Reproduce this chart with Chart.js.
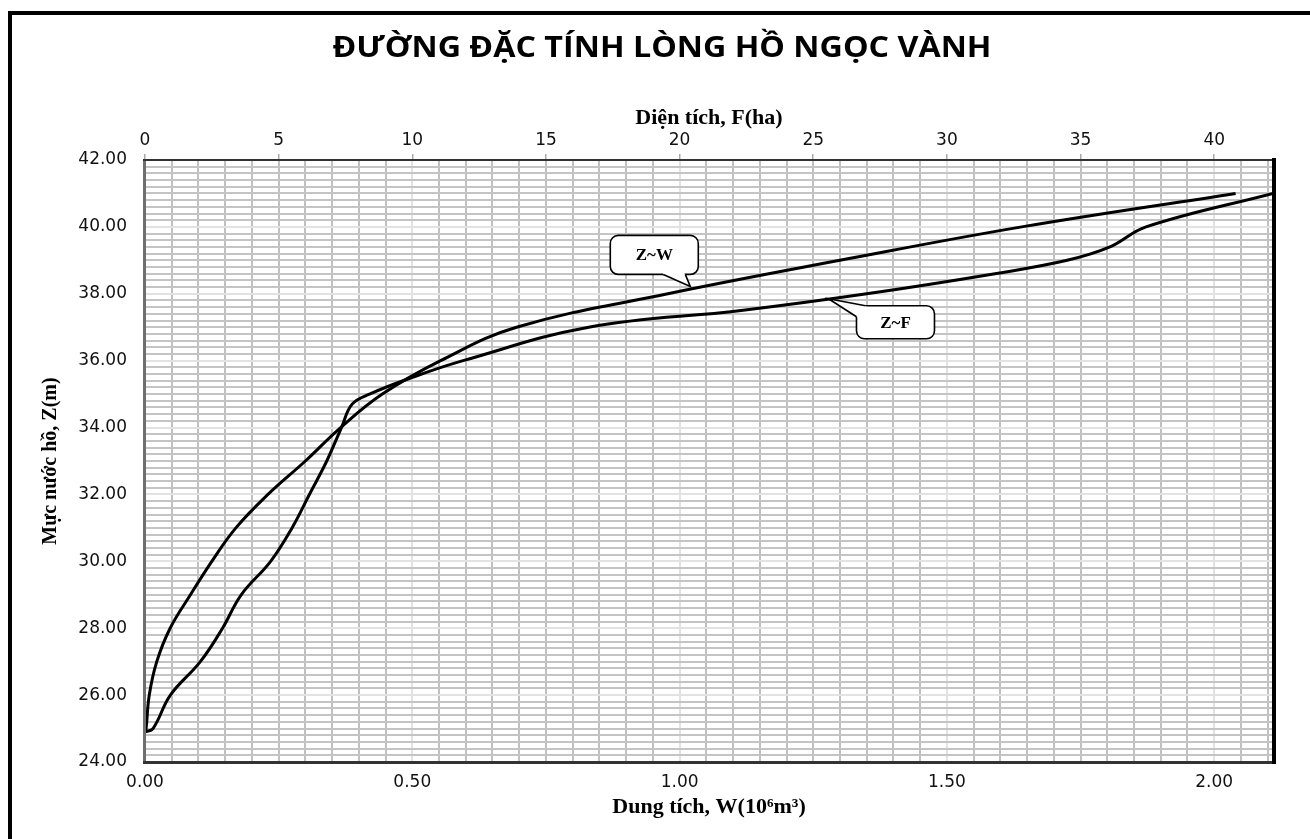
<!DOCTYPE html>
<html>
<head>
<meta charset="utf-8">
<script src="https://cdn.jsdelivr.net/npm/chart.js@4/dist/chart.umd.min.js"></script>
<style>
  html, body { margin: 0; padding: 0; background: #fff; }
  #wrap { width: 1310px; height: 839px; position: relative; }
</style>
</head>
<body>
<div id="wrap"><canvas id="chart"></canvas></div>
<script>
{
  'use strict';

  const chartTitle = 'ĐƯỜNG ĐẶC TÍNH LÒNG HỒ NGỌC VÀNH';
  const wAxisTitle = 'Dung tích, W(10⁶m³)';
  const fAxisTitle = 'Diện tích, F(ha)';
  const zAxisTitle = 'Mực nước hồ, Z(m)';

  /* Z~W : storage (10^6 m3) at each water level */
  const levelsW = [24.9, 25, 26, 27, 28, 29, 30, 31, 32, 33, 34, 35, 36, 37, 38, 39, 40, 41];
  const storage = [0, 0.002, 0.008, 0.022, 0.047, 0.085, 0.125, 0.17, 0.23, 0.3, 0.366, 0.444, 0.553, 0.695, 0.978, 1.3, 1.64, 2.04];

  /* Z~F : surface area (ha) at each water level */
  const levelsF = [24.9, 25, 26, 27, 28, 29, 30, 31, 32, 33, 34, 34.7, 35, 35.5, 36, 37, 37.5, 38, 38.6, 39, 39.4, 40, 41];
  const area = [0, 0.3, 0.95, 2.07, 2.9, 3.6, 4.7, 5.5, 6.15, 6.8, 7.35, 7.75, 8.4, 10, 11.9, 16.6, 22.3, 27, 31.8, 34.5, 36.1, 37.45, 42.2];

  const W_MAX = 2.11;
  const F_MAX = 42.2;
  const Z_MIN = 24;
  const Z_MAX = 42;

  /* callout boxes: tip given in data values, box offset from the tip, pointer base relative to the box */
  const callouts = [
    { text: 'Z~W', scale: 'x', value: 1.02, z: 38.22, box: { dx: -80, dy: -51, w: 88, h: 39 }, base: [[53, 39], [75, 39]] },
    { text: 'Z~F', scale: 'x2', value: 25.57, z: 37.85, box: { dx: 28, dy: 7, w: 78, h: 33 }, base: [[9, 0], [0, 11]] },
  ];

  const tickFont = { family: '"DejaVu Sans"', size: 17 };
  const serifBold = (size) => ({ family: '"Liberation Serif", "Times New Roman", serif', size: size, weight: 'bold' });

  const isMajorZ = (v) => Math.round(v * 10) % 20 === 0;
  const isMajorW = (v) => Math.round(v * 100) % 50 === 0;

  const toPoints = (xs, ys) => xs.map((x, i) => ({ x: x, y: ys[i] }));

  const decorations = {
    id: 'decorations',
    beforeDraw(chart) {
      const ctx = chart.ctx;
      ctx.save();
      ctx.fillStyle = '#fff';
      ctx.fillRect(0, 0, chart.width, chart.height);
      ctx.restore();
    },
    afterDraw(chart) {
      const { ctx, chartArea: a } = chart;
      ctx.save();

      /* plot frame */
      ctx.fillStyle = '#6e6e6e';
      ctx.fillRect(a.left - 2, a.top, 3, a.bottom - a.top);
      ctx.fillStyle = '#333';
      ctx.fillRect(a.left - 2, a.top - 1, a.right - a.left + 2, 2);
      ctx.fillRect(a.left - 2, a.bottom - 1, a.right - a.left + 4, 3);
      ctx.fillStyle = '#000';
      ctx.fillRect(a.right - 1, a.top - 2, 4, a.bottom - a.top + 4);

      /* outer frame */
      ctx.fillRect(8, 11, 4, chart.height - 11);
      ctx.fillRect(8, 11, chart.width - 8, 4);

      /* title, stretched like the original */
      ctx.font = 'bold 26px "Open Sans"';
      ctx.fillStyle = '#000';
      ctx.textAlign = 'center';
      ctx.textBaseline = 'alphabetic';
      const tw = ctx.measureText(chartTitle).width;
      ctx.translate(662, 57);
      ctx.scale(659 / tw, 1.08);
      ctx.fillText(chartTitle, 0, 0);
      ctx.setTransform(1, 0, 0, 1, 0, 0);

      /* callouts */
      for (const c of callouts) {
        const tx = chart.scales[c.scale].getPixelForValue(c.value);
        const ty = chart.scales.y.getPixelForValue(c.z);
        const x = tx + c.box.dx;
        const y = ty + c.box.dy;
        const w = c.box.w;
        const h = c.box.h;
        ctx.lineWidth = 1.6;
        ctx.strokeStyle = '#000';
        ctx.fillStyle = '#fff';
        ctx.beginPath();
        ctx.roundRect(x, y, w, h, 8);
        ctx.fill();
        ctx.stroke();

        const b1 = [x + c.base[0][0], y + c.base[0][1]];
        const b2 = [x + c.base[1][0], y + c.base[1][1]];
        const cx = x + w / 2;
        const cy = y + h / 2;
        const in1 = [b1[0] + (cx - b1[0]) * 0.1, b1[1] + (cy - b1[1]) * 0.2];
        const in2 = [b2[0] + (cx - b2[0]) * 0.1, b2[1] + (cy - b2[1]) * 0.2];
        ctx.beginPath();
        ctx.moveTo(b1[0], b1[1]);
        ctx.lineTo(tx, ty);
        ctx.lineTo(b2[0], b2[1]);
        ctx.lineTo(in2[0], in2[1]);
        ctx.lineTo(in1[0], in1[1]);
        ctx.closePath();
        ctx.fill();
        ctx.beginPath();
        ctx.moveTo(b1[0], b1[1]);
        ctx.lineTo(tx, ty);
        ctx.lineTo(b2[0], b2[1]);
        ctx.stroke();

        ctx.fillStyle = '#000';
        ctx.font = 'bold 17px "Liberation Serif"';
        ctx.textAlign = 'center';
        ctx.textBaseline = 'middle';
        ctx.fillText(c.text, cx, cy + 1);
      }
      ctx.restore();
    },
  };

  const ctx = document.getElementById('chart').getContext('2d');

  // eslint-disable-next-line no-unused-vars
  const chart = new Chart(ctx, {
    type: 'scatter',
    data: {
      datasets: [
        {
          label: 'Z~W',
          data: toPoints(storage, levelsW),
          xAxisID: 'x',
          yAxisID: 'y',
          showLine: true,
          borderColor: '#000',
          borderWidth: 3,
          pointRadius: 0,
          tension: 0.4,
        },
        {
          label: 'Z~F',
          data: toPoints(area, levelsF),
          xAxisID: 'x2',
          yAxisID: 'y',
          showLine: true,
          borderColor: '#000',
          borderWidth: 3,
          pointRadius: 0,
          tension: 0.4,
        },
      ],
    },
    options: {
      responsive: true,
      maintainAspectRatio: false,
      animation: false,
      layout: { padding: { left: 14, right: 37, top: 75, bottom: 0 } },
      plugins: {
        legend: { display: false },
        tooltip: { enabled: false },
      },
      scales: {
        x: {
          type: 'linear',
          position: 'bottom',
          min: 0,
          max: W_MAX,
          afterFit: (s) => { s.height = 77; },
          border: { display: false },
          grid: {
            drawTicks: false,
            lineWidth: 2,
            color: (c) => (c.tick && isMajorW(c.tick.value) ? '#e2e2e2' : '#c0c0c0'),
          },
          ticks: {
            stepSize: 0.05,
            includeBounds: false,
            autoSkip: false,
            maxRotation: 0,
            padding: 10,
            color: '#111',
            font: tickFont,
            callback: (v) => (isMajorW(v) ? v.toFixed(2) : ''),
          },
          title: {
            display: true,
            text: wAxisTitle,
            color: '#000',
            font: serifBold(22),
            padding: { top: 0, bottom: 18 },
          },
        },
        x2: {
          type: 'linear',
          position: 'top',
          min: 0,
          max: F_MAX,
          afterFit: (s) => { s.height = 85; },
          border: { display: false },
          grid: {
            drawOnChartArea: false,
            drawTicks: true,
            tickLength: 6,
            lineWidth: 1.5,
            color: '#aaa',
          },
          ticks: {
            stepSize: 5,
            includeBounds: false,
            autoSkip: false,
            maxRotation: 0,
            padding: 3,
            color: '#111',
            font: tickFont,
          },
          title: {
            display: true,
            text: fAxisTitle,
            color: '#000',
            font: serifBold(22),
            padding: { top: 30, bottom: 0 },
          },
        },
        y: {
          type: 'linear',
          position: 'left',
          min: Z_MIN,
          max: Z_MAX,
          afterFit: (s) => { s.width = 131; },
          border: { display: false },
          grid: {
            drawTicks: false,
            lineWidth: 2,
            color: (c) => (c.tick && isMajorZ(c.tick.value) ? '#e2e2e2' : '#c4c4c4'),
          },
          ticks: {
            stepSize: 0.2,
            autoSkip: false,
            padding: 18,
            color: '#111',
            font: tickFont,
            callback: (v) => (isMajorZ(v) ? v.toFixed(2) : ''),
          },
          title: {
            display: true,
            text: zAxisTitle,
            color: '#000',
            font: serifBold(20),
            padding: { top: 25, bottom: 0 },
          },
        },
      },
    },
    plugins: [decorations],
  });
}
</script>
</body>
</html>
